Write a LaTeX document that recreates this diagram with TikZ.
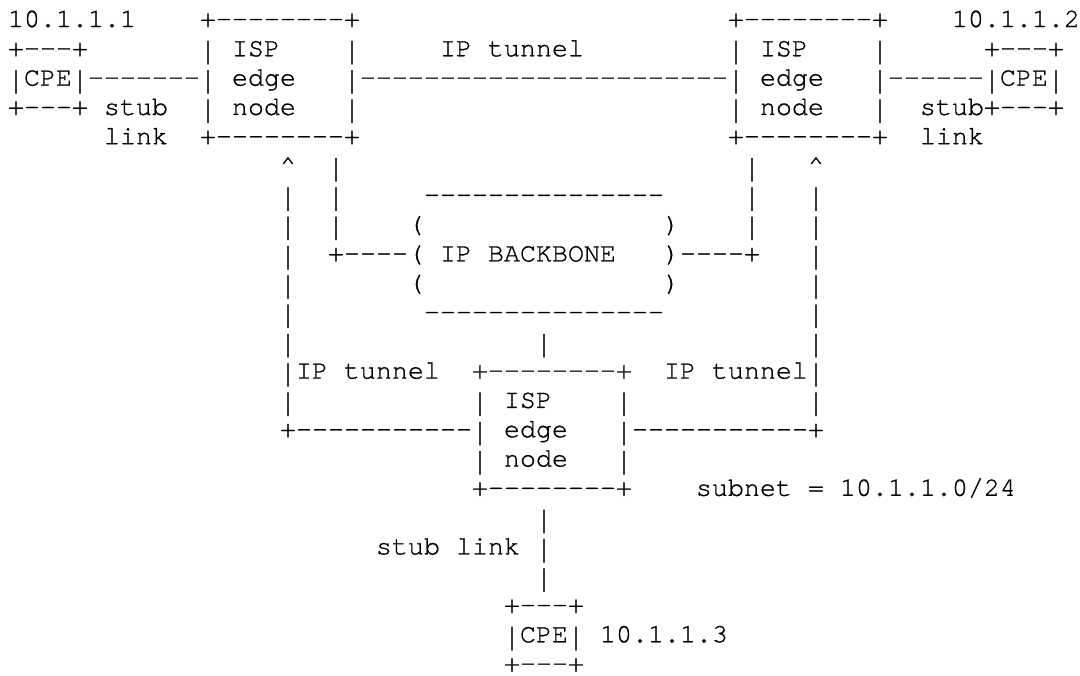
\documentclass[tikz,border=0pt]{standalone}
\usepackage{fontspec}
\setmonofont{TeX Gyre Cursor}[FakeBold=0.8]
\usepackage{graphicx}
\usepackage{tikz}
% n empty character cells
\newcommand{\sk}[1]{\hspace*{#1\fontcharwd\font`0}}
% a bar tall enough to join the next row
\newcommand{\vl}{\raisebox{-0.15em}{\scalebox{1}[1.2]{|}}}
\tikzset{asciirow/.style={anchor=base west, inner sep=0pt, outer sep=0pt,
  font=\fontsize{13.333pt}{14.65pt}\selectfont\ttfamily}}

\begin{document}
\begin{tikzpicture}[x=8pt, y=-14.65pt]
  \useasboundingbox (-0.5,0.0785) rectangle (67,23.116);
  % Top: CPEs and the two ISP edge nodes
  \node[asciirow] (row1) at (0,1) {10.1.1.1\sk{4}+--------+\sk{23}+--------+\sk{4}10.1.1.2};
  \node[asciirow] (row2) at (0,2) {+---+\sk{7}\vl\ ISP\sk{4}\vl\sk{5}IP tunnel\sk{9}\vl\ ISP\sk{4}\vl\sk{6}+---+};
  \node[asciirow] (row3) at (0,3) {\vl CPE\vl-------\vl\ edge\sk{3}\vl-----------------------\vl\ edge\sk{3}\vl------\vl CPE\vl};
  \node[asciirow] (row4) at (0,4) {+---+ stub\sk{2}\vl\ node\sk{3}\vl\sk{23}\vl\ node\sk{3}\vl\sk{2}stub+---+};
  \node[asciirow] (row5) at (0,5) {\sk{6}link\sk{2}+--------+\sk{23}+--------+\sk{2}link};
  % IP backbone
  \node[asciirow] (row6) at (0,6) {\sk{17}\textasciicircum\sk{2}\vl\sk{25}\vl\sk{3}\textasciicircum};
  \node[asciirow] (row7) at (0,7) {\sk{17}\vl\sk{2}\vl\sk{5}---------------\sk{5}\vl\sk{3}\vl};
  \node[asciirow] (row8) at (0,8) {\sk{17}\vl\sk{2}\vl\sk{4}(\sk{15})\sk{4}\vl\sk{3}\vl};
  \node[asciirow] (row9) at (0,9) {\sk{17}\vl\sk{2}+----( IP BACKBONE\sk{3})----+\sk{3}\vl};
  \node[asciirow] (row10) at (0,10) {\sk{17}\vl\sk{7}(\sk{15})\sk{8}\vl};
  \node[asciirow] (row11) at (0,11) {\sk{17}\vl\sk{8}---------------\sk{9}\vl};
  \node[asciirow] (row12) at (0,12) {\sk{17}\vl\sk{15}\vl\sk{16}\vl};
  % Third ISP edge node
  \node[asciirow] (row13) at (0,13) {\sk{17}\vl IP tunnel\sk{2}+--------+\sk{2}IP tunnel\vl};
  \node[asciirow] (row14) at (0,14) {\sk{17}\vl\sk{11}\vl\ ISP\sk{4}\vl\sk{11}\vl};
  \node[asciirow] (row15) at (0,15) {\sk{17}+-----------\vl\ edge\sk{3}\vl-----------+};
  \node[asciirow] (row16) at (0,16) {\sk{29}\vl\ node\sk{3}\vl};
  \node[asciirow] (row17) at (0,17) {\sk{29}+--------+\sk{4}subnet = 10.1.1.0/24};
  % Bottom CPE
  \node[asciirow] (row18) at (0,18) {\sk{33}\vl};
  \node[asciirow] (row19) at (0,19) {\sk{23}stub link \vl};
  \node[asciirow] (row20) at (0,20) {\sk{33}\vl};
  \node[asciirow] (row21) at (0,21) {\sk{31}+---+};
  \node[asciirow] (row22) at (0,22) {\sk{31}\vl CPE\vl\ 10.1.1.3};
  \node[asciirow] (row23) at (0,23) {\sk{31}+---+};
\end{tikzpicture}
\end{document}
